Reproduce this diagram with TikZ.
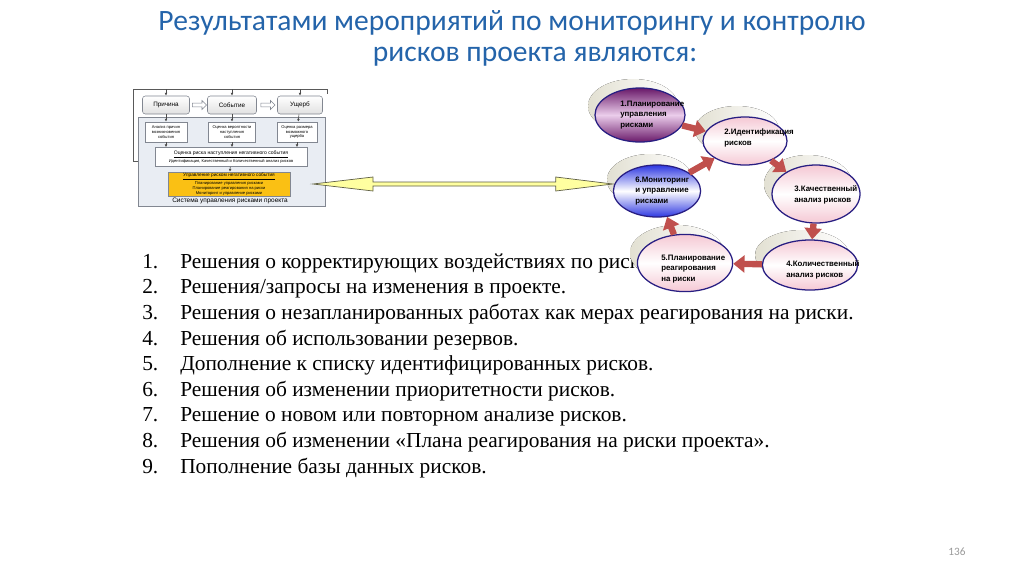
\documentclass[tikz,border=0pt]{standalone}
\usepackage{fontspec}
\setmainfont{Liberation Serif}
\setsansfont{Liberation Sans}
\newfontfamily\titlefont{Carlito}
\usetikzlibrary{shapes.geometric,shapes.arrows,arrows.meta,calc}

\definecolor{titleblue}{RGB}{36,100,170}
\definecolor{cyclered}{RGB}{192,80,77}
\definecolor{ringblue}{RGB}{40,30,130}
\definecolor{pinkfill}{RGB}{245,200,212}
\definecolor{purplefill}{RGB}{105,25,105}
\definecolor{lilac}{RGB}{235,205,235}
\definecolor{bluefill}{RGB}{45,55,225}
\definecolor{shadowgrey}{RGB}{226,224,210}
\definecolor{panelgrey}{RGB}{233,237,243}
\definecolor{boxline}{RGB}{130,135,145}
\definecolor{goldfill}{RGB}{250,192,20}
\definecolor{arrowyellow}{RGB}{255,255,160}
\definecolor{arrowedge}{RGB}{95,95,70}

\tikzset{
  stage/.style={ellipse, draw=ringblue, line width=0.9pt, inner sep=0pt},
  pinkstage/.style={stage, top color=pinkfill, bottom color=pinkfill, middle color=white},
  stagetext/.style={anchor=west, align=left, inner sep=0pt,
    font=\sffamily\bfseries\fontsize{5.6}{7.4}\selectfont},
  stageshadow/.style={left color=shadowgrey, right color=white},
  cyclearrow/.style={cyclered, line width=4.5pt, -{Triangle[length=8pt,width=12pt]}},
  schemebox/.style={draw=boxline, fill=white, inner sep=0pt, align=center,
    font=\sffamily\fontsize{2.9}{3.4}\selectfont},
  causebox/.style={schemebox, rounded corners=2pt, top color=white, bottom color=black!12,
    minimum height=0.45cm, font=\sffamily\fontsize{4.5}{5}\selectfont},
  smallarrow/.style={black!70, line width=0.4pt, -{Latex[length=2pt,width=2pt]}},
  itemtext/.style={anchor=base west, inner sep=0pt, font=\fontsize{15.2}{18}\selectfont}
}

\begin{document}
\begin{tikzpicture}[x=0.025cm,y=-0.025cm]
\useasboundingbox[fill=white] (0,0) rectangle (1024,574);

\node (title1) [at={(512,23)}, text=titleblue, font=\titlefont\fontsize{21}{25}\selectfont] {Результатами мероприятий по мониторингу и контролю};
\node (title2) [at={(535,57)}, text=titleblue, font=\titlefont\fontsize{21}{25}\selectfont] {рисков проекта являются:};

\node (i1) [itemtext, at={(142,268)}] {\makebox[0.95cm][l]{1.}Решения о корректирующих воздействиях по риск};
\node (i2) [itemtext, at={(142,293)}] {\makebox[0.95cm][l]{2.}Решения/запросы на изменения в проекте.};
\node (i3) [itemtext, at={(142,319)}] {\makebox[0.95cm][l]{3.}Решения о незапланированных работах как мерах реагирования на риски.};
\node (i4) [itemtext, at={(142,345)}] {\makebox[0.95cm][l]{4.}Решения об использовании резервов.};
\node (i5) [itemtext, at={(142,370)}] {\makebox[0.95cm][l]{5.}Дополнение к списку идентифицированных рисков.};
\node (i6) [itemtext, at={(142,396)}] {\makebox[0.95cm][l]{6.}Решения об изменении приоритетности рисков.};
\node (i7) [itemtext, at={(142,421)}] {\makebox[0.95cm][l]{7.}Решение о новом или повторном анализе рисков.};
\node (i8) [itemtext, at={(142,447)}] {\makebox[0.95cm][l]{8.}Решения об изменении «Плана реагирования на риски проекта».};
\node (i9) [itemtext, at={(142,473)}] {\makebox[0.95cm][l]{9.}Пополнение базы данных рисков.};

\coordinate (topline) at (0,89);
\draw[black!65, line width=0.5pt] (138,161) -- (133,161) -- (133,89) -- (327,89) -- (327,94);
\draw[fill=panelgrey, draw=boxline, line width=0.4pt] (138,117) rectangle (325,206);
\node (c1) [causebox, minimum width=1.175cm, at={(166,105)}] {Причина};
\node (c2) [causebox, minimum width=1.225cm, at={(232,105)}] {Событие};
\node (c3) [causebox, minimum width=1.125cm, at={(300,105)}] {Ущерб};
\node (h1) [single arrow, draw=boxline, fill=white, minimum height=0.35cm, minimum width=0.22cm,
  single arrow head extend=1pt, inner sep=0.5pt, at={($(c1.east)!0.5!(c2.west)$)}] {};
\node (h2) [single arrow, draw=boxline, fill=white, minimum height=0.35cm, minimum width=0.22cm,
  single arrow head extend=1pt, inner sep=0.5pt, at={($(c2.east)!0.5!(c3.west)$)}] {};
\node (a1) [schemebox, minimum width=1.05cm, minimum height=0.5cm, at={(166,132)}] {Анализ причин\\возникновения\\события};
\node (a2) [schemebox, minimum width=1.175cm, minimum height=0.5cm, at={(232,132)}] {Оценка вероятности\\наступления\\события};
\node (a3) [schemebox, minimum width=1cm, minimum height=0.5cm, at={(297,132)}] {Оценка размера\\возможного\\ущерба};
\node (r1) [schemebox, minimum width=3.8cm, minimum height=0.475cm, at={(231,157)}] {{\fontsize{3.6}{4.2}\selectfont\underline{Оценка риска наступления негативного события}}\\Идентификация, Качественный и Количественный анализ рисков};
\node (y1) [schemebox, fill=goldfill, minimum width=3.05cm, minimum height=0.6cm, at={(229,184)}] {{\fontsize{3.4}{3.9}\selectfont\underline{Управление риском негативного события}}\\Планирование управления рисками\\Планирование реагирования на риски\\Мониторинг и управление рисками};
\node (sys) [at={(230,201)}, inner sep=0pt, font=\sffamily\fontsize{4.6}{5}\selectfont] {Система управления рисками проекта};
\draw[smallarrow] (c1.north |- topline) -- (c1);
\draw[smallarrow] (c2.north |- topline) -- (c2);
\draw[smallarrow] (c3.north |- topline) -- (c3);
\draw[smallarrow] (c1) -- (a1);
\draw[smallarrow] (c2) -- (a2);
\draw[smallarrow] (c3) -- (a3);
\draw[smallarrow] (a1) -- (a1 |- r1.north);
\draw[smallarrow] (a2) -- (a2 |- r1.north);
\draw[smallarrow] (a3) -- (a3 |- r1.north);
\draw[smallarrow] (r1) -- (y1);

\fill[stageshadow] (633,106) ellipse [x radius=45, y radius=27];
\fill[stageshadow] (737,130) ellipse [x radius=42, y radius=24];
\fill[stageshadow] (808,184) ellipse [x radius=44, y radius=29];
\fill[stageshadow] (802,255) ellipse [x radius=47, y radius=25];
\fill[stageshadow] (677,253) ellipse [x radius=47, y radius=28];
\fill[stageshadow] (650,180) ellipse [x radius=43, y radius=26];

\node (e1) [stage, top color=purplefill, bottom color=purplefill, middle color=lilac, minimum width=2.25cm, minimum height=1.35cm, at={(640,115)}] {};
\node (e2) [pinkstage, minimum width=2.1cm, minimum height=1.2cm, at={(745,141)}] {};
\node (e3) [pinkstage, minimum width=2.2cm, minimum height=1.45cm, at={(816,194)}] {};
\node (e4) [pinkstage, minimum width=2.38cm, minimum height=1.25cm, at={(810,265)}] {};
\node (e5) [pinkstage, minimum width=2.38cm, minimum height=1.43cm, at={(685,263)}] {};
\node (e6) [stage, top color=bluefill, bottom color=bluefill, middle color=white, minimum width=2.18cm, minimum height=1.3cm, at={(657,191)}] {};

\node (t1) [stagetext, at={(620,115)}] {1.Планирование\\управления\\рисками};
\node (t2) [stagetext, at={(724,138)}] {2.Идентификация\\рисков};
\node (t3) [stagetext, at={(794,195)}] {3.Качественный\\анализ рисков};
\node (t4) [stagetext, at={(786,270)}] {4.Количественный\\анализ рисков};
\node (t5) [stagetext, at={(661,269)}] {5.Планирование\\реагирования\\на риски};
\node (t6) [stagetext, at={(635,191)}] {6.Мониторинг\\и управление\\рисками};

\draw[cyclearrow] (e1) -- (e2);
\draw[cyclearrow] (e6) -- (e2);
\draw[cyclearrow] (e2) -- (e3);
\draw[cyclearrow] (e3) -- (e4);
\draw[cyclearrow] (e4) -- (e5);
\draw[cyclearrow] (e5) -- (e6);

\coordinate (la) at (313,184);
\coordinate (ra) at (la -| e6.west);
\draw[fill=arrowyellow, draw=arrowedge, line width=0.5pt] (la) -- ++(60,-7) -- ++(0,5) -- ([shift={(-57,-2)}]ra) -- ++(0,-5) -- (ra) -- ++(-57,7) -- ++(0,-5) -- ([shift={(60,2)}]la) -- ++(0,5) -- cycle;

\node (pnum) [at={(957,552)}, text=black!40, font=\titlefont\fontsize{8}{10}\selectfont] {136};
\end{tikzpicture}
\end{document}
